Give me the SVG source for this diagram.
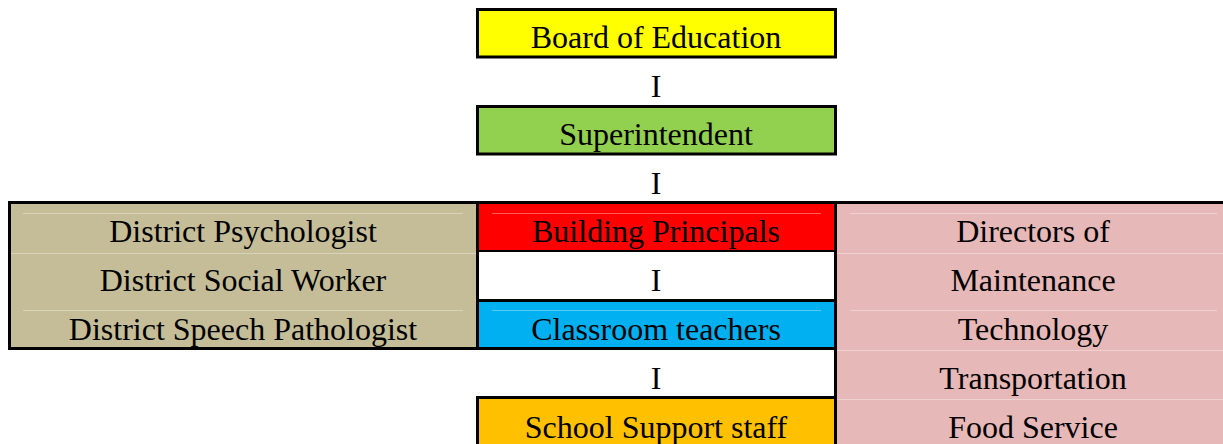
<svg xmlns="http://www.w3.org/2000/svg" width="1223" height="444" viewBox="0 0 1223 444">
<style>
text{font-family:"Liberation Serif","Times New Roman",serif;font-size:32px;fill:#000;text-anchor:middle}
.box{stroke:#000;stroke-width:3}
.faint{stroke:#ffffff;stroke-opacity:0.35;stroke-width:1}
</style>
<rect width="1223" height="444" fill="#fff"/>
<g id="board">
<rect class="box" x="477.5" y="9.5" width="358" height="47.5" fill="#FFFF00"/>
<text x="656" y="48">Board of Education</text>
</g>
<g id="superintendent">
<rect class="box" x="477.5" y="106.5" width="358" height="47.5" fill="#92D050"/>
<text x="656" y="145">Superintendent</text>
</g>
<g id="district-staff">
<rect x="8" y="201" width="471" height="149" fill="#000"/>
<rect x="11" y="204" width="465" height="143" fill="#C4BD97"/>
<line class="faint" x1="11" y1="253.5" x2="476" y2="253.5"/>
<line class="faint" x1="23" y1="213.5" x2="463" y2="213.5"/>
<line class="faint" x1="23" y1="310.5" x2="463" y2="310.5"/>
<text x="243" y="242">District Psychologist</text>
<text x="243" y="291">District Social Worker</text>
<text x="243" y="340">District Speech Pathologist</text>
</g>
<g id="directors">
<rect x="476" y="201" width="747" height="3" fill="#000"/>
<rect x="837" y="204" width="386" height="240" fill="#E6B8B7"/>
<line class="faint" x1="837" y1="253.5" x2="1223" y2="253.5"/>
<line class="faint" x1="837" y1="350.5" x2="1223" y2="350.5"/>
<line class="faint" x1="837" y1="399.5" x2="1223" y2="399.5"/>
<line class="faint" x1="850" y1="213.5" x2="1217" y2="213.5"/>
<line class="faint" x1="850" y1="310.5" x2="1217" y2="310.5"/>
<text x="1033" y="242">Directors of</text>
<text x="1033" y="291">Maintenance</text>
<text x="1033" y="340">Technology</text>
<text x="1033" y="389">Transportation</text>
<text x="1033" y="438">Food Service</text>
</g>
<g id="building-principals">
<rect x="476" y="201" width="361" height="51" fill="#000"/>
<rect x="479" y="204" width="355" height="46" fill="#FF0000"/>
<line class="faint" x1="492" y1="213.5" x2="821" y2="213.5"/>
<text x="656" y="242">Building Principals</text>
</g>
<g id="classroom-teachers">
<rect x="476" y="299" width="361" height="51" fill="#000"/>
<rect x="479" y="302" width="355" height="45" fill="#00B0F0"/>
<line class="faint" x1="492" y1="310.5" x2="821" y2="310.5"/>
<text x="656" y="340">Classroom teachers</text>
</g>
<g id="school-support-staff">
<rect x="476" y="396" width="361" height="48" fill="#000"/>
<rect x="479" y="399" width="355" height="45" fill="#FFC000"/>
<text x="656" y="438">School Support staff</text>
</g>
<g id="connectors">
<text x="656" y="97">I</text>
<text x="656" y="194">I</text>
<rect x="476" y="250" width="3" height="51" fill="#000"/>
<rect x="834" y="250" width="3" height="194" fill="#000"/>
<text x="656" y="291">I</text>
<text x="656" y="389">I</text>
</g>
</svg>
